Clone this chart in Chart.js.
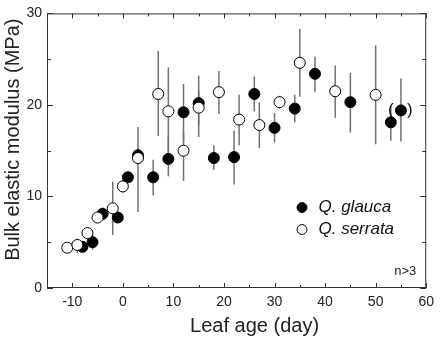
<!DOCTYPE html>
<html>
<head>
<meta charset="utf-8">
<script src="https://cdn.jsdelivr.net/npm/chart.js@4.4.1/dist/chart.umd.min.js"></script>
<style>
  html, body { margin: 0; padding: 0; background: #fff; }
  #wrap { width: 440px; height: 341px; }
</style>
</head>
<body>
<div id="wrap"><canvas id="c" width="440" height="341"></canvas></div>
<script>
// ---- data ----
const glaucaX  = [-8, -6, -4, -1, 1, 3, 6, 9, 12, 15, 18, 22, 26, 30, 34, 38, 45, 53, 55];
const glaucaY  = [4.5, 5.0, 8.1, 7.7, 12.1, 14.5, 12.1, 14.1, 19.2, 20.2, 14.2, 14.3, 21.2, 17.5, 19.6, 23.4, 20.3, 18.1, 19.4];
const glaucaLo = [4.0, 4.2, 7.6, 7.3, 11.6, 13.6, 10.1, 12.2, 16.0, 17.8, 12.9, 11.3, 19.3, 15.9, 18.1, 21.4, 17.0, 16.1, 16.0];
const glaucaHi = [5.0, 5.8, 8.8, 8.1, 12.7, 15.4, 14.0, 16.5, 22.3, 23.2, 15.6, 17.2, 23.1, 19.1, 21.1, 25.3, 23.5, 19.9, 22.9];

const serrataX  = [-11, -9, -7, -5, -2, 0, 3, 7, 9, 12, 15, 19, 23, 27, 31, 35, 42, 50];
const serrataY  = [4.4, 4.7, 6.0, 7.7, 8.7, 11.1, 14.2, 21.2, 19.3, 15.0, 19.7, 21.4, 18.4, 17.8, 20.3, 24.6, 21.5, 21.1];
const serrataLo = [4.0, 3.8, 5.5, 7.2, 5.8, 10.4, 8.3, 16.6, 14.5, 11.7, 16.5, 19.0, 15.6, 15.3, 19.6, 20.9, 18.6, 15.7];
const serrataHi = [4.8, 5.4, 6.6, 8.1, 11.6, 11.8, 17.6, 25.9, 24.1, 17.0, 21.5, 23.7, 21.1, 20.3, 21.0, 28.3, 24.3, 26.5];

const seriesNames = ['Q. glauca', 'Q. serrata'];
const xTitle = 'Leaf age (day)';
const yTitle = 'Bulk elastic modulus (MPa)';
const noteText = 'n>3';
const bracketIndex = 18; // glauca point drawn in parentheses

function pts(xs, ys, lo, hi) {
  return xs.map((x, i) => ({ x: x, y: ys[i], lo: lo[i], hi: hi[i] }));
}

const FONT = "'Liberation Sans', Arial, Helvetica, sans-serif";

// error bars, drawn behind the markers
const errorBars = {
  id: 'errorBars',
  beforeDatasetsDraw(chart) {
    const { ctx, scales: { x, y } } = chart;
    ctx.save();
    ctx.strokeStyle = '#707070';
    ctx.lineWidth = 1.5;
    chart.data.datasets.forEach((ds) => {
      ds.data.forEach((p) => {
        const px = x.getPixelForValue(p.x);
        ctx.beginPath();
        ctx.moveTo(px, y.getPixelForValue(p.lo));
        ctx.lineTo(px, y.getPixelForValue(p.hi));
        ctx.stroke();
      });
    });
    ctx.restore();
  }
};

// frame, inward ticks, annotations
const frameTicks = {
  id: 'frameTicks',
  afterDatasetsDraw(chart) {
    const { ctx, chartArea: a, scales: { x, y } } = chart;
    ctx.save();
    ctx.strokeStyle = '#333';
    ctx.lineWidth = 1;
    ctx.strokeRect(a.left + 0.5, a.top + 0.5, a.right - a.left - 1, a.bottom - a.top - 1);
    ctx.beginPath();
    x.ticks.forEach((t) => {
      const px = Math.round(x.getPixelForValue(t.value)) + 0.5;
      const len = (t.value % 10 === 0) ? 5 : 3;
      ctx.moveTo(px, a.bottom); ctx.lineTo(px, a.bottom - len);
      ctx.moveTo(px, a.top); ctx.lineTo(px, a.top + len);
    });
    y.ticks.forEach((t) => {
      const py = Math.round(y.getPixelForValue(t.value)) + 0.5;
      const len = (t.value % 10 === 0) ? 6 : 4;
      ctx.moveTo(a.left, py); ctx.lineTo(a.left + len, py);
      ctx.moveTo(a.right, py); ctx.lineTo(a.right - len, py);
    });
    ctx.stroke();

    // parentheses around one glauca point
    const p = chart.data.datasets[0].data[bracketIndex];
    const bx = x.getPixelForValue(p.x), by = y.getPixelForValue(p.y);
    ctx.fillStyle = '#111';
    ctx.font = '17px ' + FONT;
    ctx.textBaseline = 'middle';
    ctx.textAlign = 'center';
    ctx.fillText('(', bx - 10, by);
    ctx.fillText(')', bx + 9, by);

    // n>3 note
    ctx.font = '13px ' + FONT;
    ctx.fillStyle = '#222';
    ctx.textAlign = 'right';
    ctx.fillText(noteText, a.right - 10, 271);
    ctx.restore();
  }
};

// title shifts and legend placement
const placer = {
  id: 'placer',
  afterLayout(chart) {
    const sx = chart.scales.x, sy = chart.scales.y;
    if (!sx._shifted) {
      const o = sx.drawTitle;
      sx.drawTitle = function () { this.ctx.save(); this.ctx.translate(18, 0); o.call(this); this.ctx.restore(); };
      sx._shifted = true;
    }
    if (!sy._shifted) {
      const o = sy.drawTitle;
      sy.drawTitle = function () { this.ctx.save(); this.ctx.translate(0, -11); o.call(this); this.ctx.restore(); };
      sy._shifted = true;
    }
  },
  beforeDraw(chart) {
    const lg = chart.legend;
    if (lg) {
      const w = lg.width, h = lg.height;
      lg.left = 289; lg.top = 194; lg.right = 289 + w; lg.bottom = 194 + h;
    }
  }
};

new Chart(document.getElementById('c'), {
  type: 'scatter',
  data: {
    datasets: [
      {
        label: seriesNames[0],
        data: pts(glaucaX, glaucaY, glaucaLo, glaucaHi),
        backgroundColor: '#000',
        borderColor: '#000',
        borderWidth: 1,
        pointRadius: 5.5,
        pointHoverRadius: 5.5,
        order: 2
      },
      {
        label: seriesNames[1],
        data: pts(serrataX, serrataY, serrataLo, serrataHi),
        backgroundColor: '#fff',
        borderColor: '#000',
        borderWidth: 1,
        pointRadius: 5.5,
        pointHoverRadius: 5.5,
        order: 1
      }
    ]
  },
  options: {
    responsive: false,
    animation: false,
    events: [],
    layout: { padding: { top: 6, right: 9, left: 0, bottom: 0 } },
    plugins: {
      tooltip: { enabled: false },
      legend: {
        display: true,
        position: 'chartArea',
        align: 'start',
        labels: {
          usePointStyle: true,
          pointStyle: 'circle',
          boxWidth: 16,
          boxHeight: 7,
          padding: 5,
          color: '#111',
          font: { family: FONT, size: 17, style: 'italic' },
          sort: (a, b) => a.datasetIndex - b.datasetIndex
        }
      }
    },
    scales: {
      x: {
        type: 'linear',
        min: -15,
        max: 60,
        afterFit: (s) => { s.height = 53; },
        grid: { display: false, drawTicks: false },
        border: { display: false },
        ticks: {
          stepSize: 5,
          autoSkip: false,
          maxRotation: 0,
          padding: 6,
          color: '#222',
          font: { family: FONT, size: 14 },
          callback: (v) => (v % 10 === 0 ? String(v) : '')
        },
        title: {
          display: true,
          text: xTitle,
          color: '#222',
          padding: { top: 0, bottom: 3 },
          font: { family: FONT, size: 20 }
        }
      },
      y: {
        type: 'linear',
        min: 0,
        max: 30,
        afterFit: (s) => { s.width = 47; },
        grid: { display: false, drawTicks: false },
        border: { display: false },
        ticks: {
          stepSize: 5,
          autoSkip: false,
          padding: 5,
          color: '#222',
          font: { family: FONT, size: 14 },
          callback: (v) => (v % 10 === 0 ? String(v) : '')
        },
        title: {
          display: true,
          text: yTitle,
          color: '#222',
          padding: { top: 1, bottom: 0 },
          font: { family: FONT, size: 20 }
        }
      }
    }
  },
  plugins: [errorBars, frameTicks, placer]
});
</script>
</body>
</html>
